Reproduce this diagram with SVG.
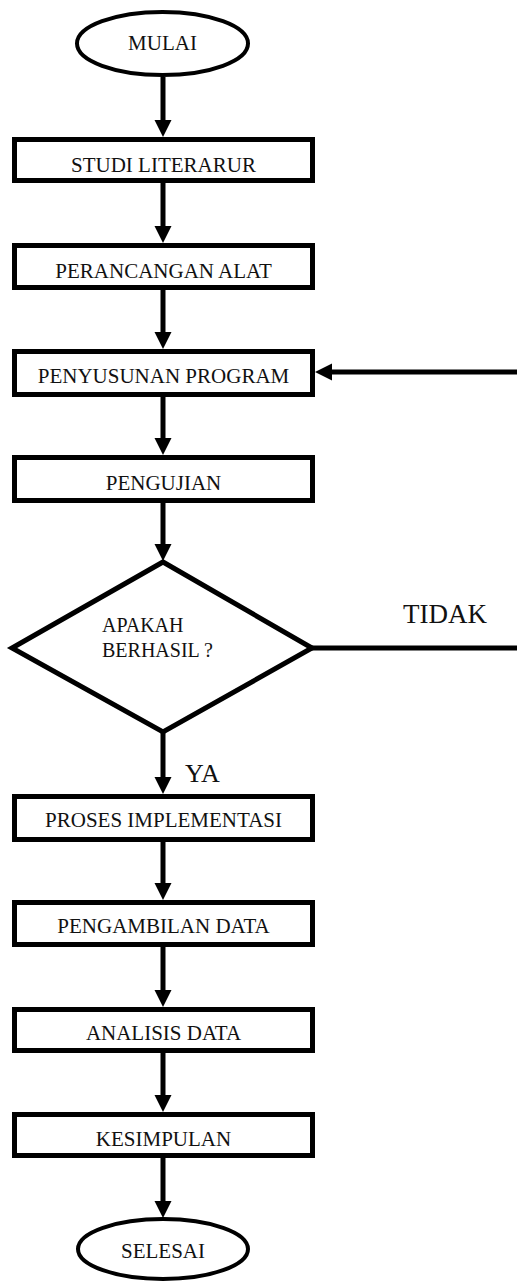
<svg xmlns="http://www.w3.org/2000/svg" width="517" height="1282" viewBox="0 0 517 1282">
<style>
.box{fill:#fff;stroke:#000;stroke-width:5}
.term{fill:#fff;stroke:#000;stroke-width:4}
.c{stroke:#000;stroke-width:5;fill:none}
text{font-family:'Liberation Serif','Times New Roman','DejaVu Serif',serif;fill:#111}
.t{font-size:21px;text-anchor:middle}
.q{font-size:20px}
</style>
<defs>
<marker id="ah" markerUnits="userSpaceOnUse" markerWidth="18" markerHeight="18" refX="9" refY="8.5" orient="auto">
<path d="M0,0 L17,8.5 L0,17 z" fill="#000"/>
</marker>
</defs>
<rect width="517" height="1282" fill="#fff"/>
<g id="connectors">
<line class="c" x1="163" y1="77" x2="163" y2="129" marker-end="url(#ah)"/>
<line class="c" x1="163" y1="183" x2="163" y2="235" marker-end="url(#ah)"/>
<line class="c" x1="163" y1="290" x2="163" y2="341" marker-end="url(#ah)"/>
<line class="c" x1="163" y1="397" x2="163" y2="447" marker-end="url(#ah)"/>
<line class="c" x1="163" y1="503" x2="163" y2="553" marker-end="url(#ah)"/>
<line class="c" x1="163" y1="732" x2="163" y2="786" marker-end="url(#ah)"/>
<line class="c" x1="163" y1="842" x2="163" y2="892" marker-end="url(#ah)"/>
<line class="c" x1="163" y1="947" x2="163" y2="999" marker-end="url(#ah)"/>
<line class="c" x1="163" y1="1053" x2="163" y2="1104" marker-end="url(#ah)"/>
<line class="c" x1="163" y1="1158" x2="163" y2="1210" marker-end="url(#ah)"/>
<line class="c" x1="312" y1="648" x2="517" y2="648"/>
<line class="c" x1="517" y1="372" x2="323" y2="372" marker-end="url(#ah)"/>
<text x="403" y="623" font-family="Liberation Serif, serif" font-size="27">TIDAK</text>
<text x="185" y="782" font-family="Liberation Serif, serif" font-size="26">YA</text>
</g>
<g id="mulai">
<ellipse class="term" cx="162.5" cy="43.5" rx="85.5" ry="31.5"/>
<text class="t" x="162.5" y="50" font-family="Liberation Serif, serif">MULAI</text>
</g>
<g id="studi">
<rect class="box" x="14.5" y="139.5" width="298" height="41"/>
<text class="t" x="163.5" y="172" font-family="Liberation Serif, serif">STUDI LITERARUR</text>
</g>
<g id="perancangan">
<rect class="box" x="14.5" y="245.5" width="298" height="42"/>
<text class="t" x="163.5" y="278" font-family="Liberation Serif, serif">PERANCANGAN ALAT</text>
</g>
<g id="penyusunan">
<rect class="box" x="14.5" y="351.5" width="298" height="43"/>
<text class="t" x="163.5" y="383" font-family="Liberation Serif, serif">PENYUSUNAN PROGRAM</text>
</g>
<g id="pengujian">
<rect class="box" x="14.5" y="457.5" width="298" height="43"/>
<text class="t" x="163.5" y="490" font-family="Liberation Serif, serif">PENGUJIAN</text>
</g>
<g id="keputusan">
<polygon class="box" points="163,562 312,648 163,732 12,648"/>
<text class="q" x="102" y="632" font-family="Liberation Serif, serif">APAKAH</text>
<text class="q" x="102" y="657" font-family="Liberation Serif, serif">BERHASIL ?</text>
</g>
<g id="implementasi">
<rect class="box" x="14.5" y="796.5" width="298" height="43"/>
<text class="t" x="163.5" y="827" font-family="Liberation Serif, serif">PROSES IMPLEMENTASI</text>
</g>
<g id="pengambilan">
<rect class="box" x="14.5" y="902.5" width="298" height="42"/>
<text class="t" x="163.5" y="933" font-family="Liberation Serif, serif">PENGAMBILAN DATA</text>
</g>
<g id="analisis">
<rect class="box" x="14.5" y="1009.5" width="298" height="41"/>
<text class="t" x="163.5" y="1040" font-family="Liberation Serif, serif">ANALISIS DATA</text>
</g>
<g id="kesimpulan">
<rect class="box" x="14.5" y="1114.5" width="298" height="41"/>
<text class="t" x="163.5" y="1146" font-family="Liberation Serif, serif">KESIMPULAN</text>
</g>
<g id="selesai">
<ellipse class="term" cx="163" cy="1249" rx="85" ry="30"/>
<text class="t" x="163" y="1258" font-family="Liberation Serif, serif">SELESAI</text>
</g>
</svg>
